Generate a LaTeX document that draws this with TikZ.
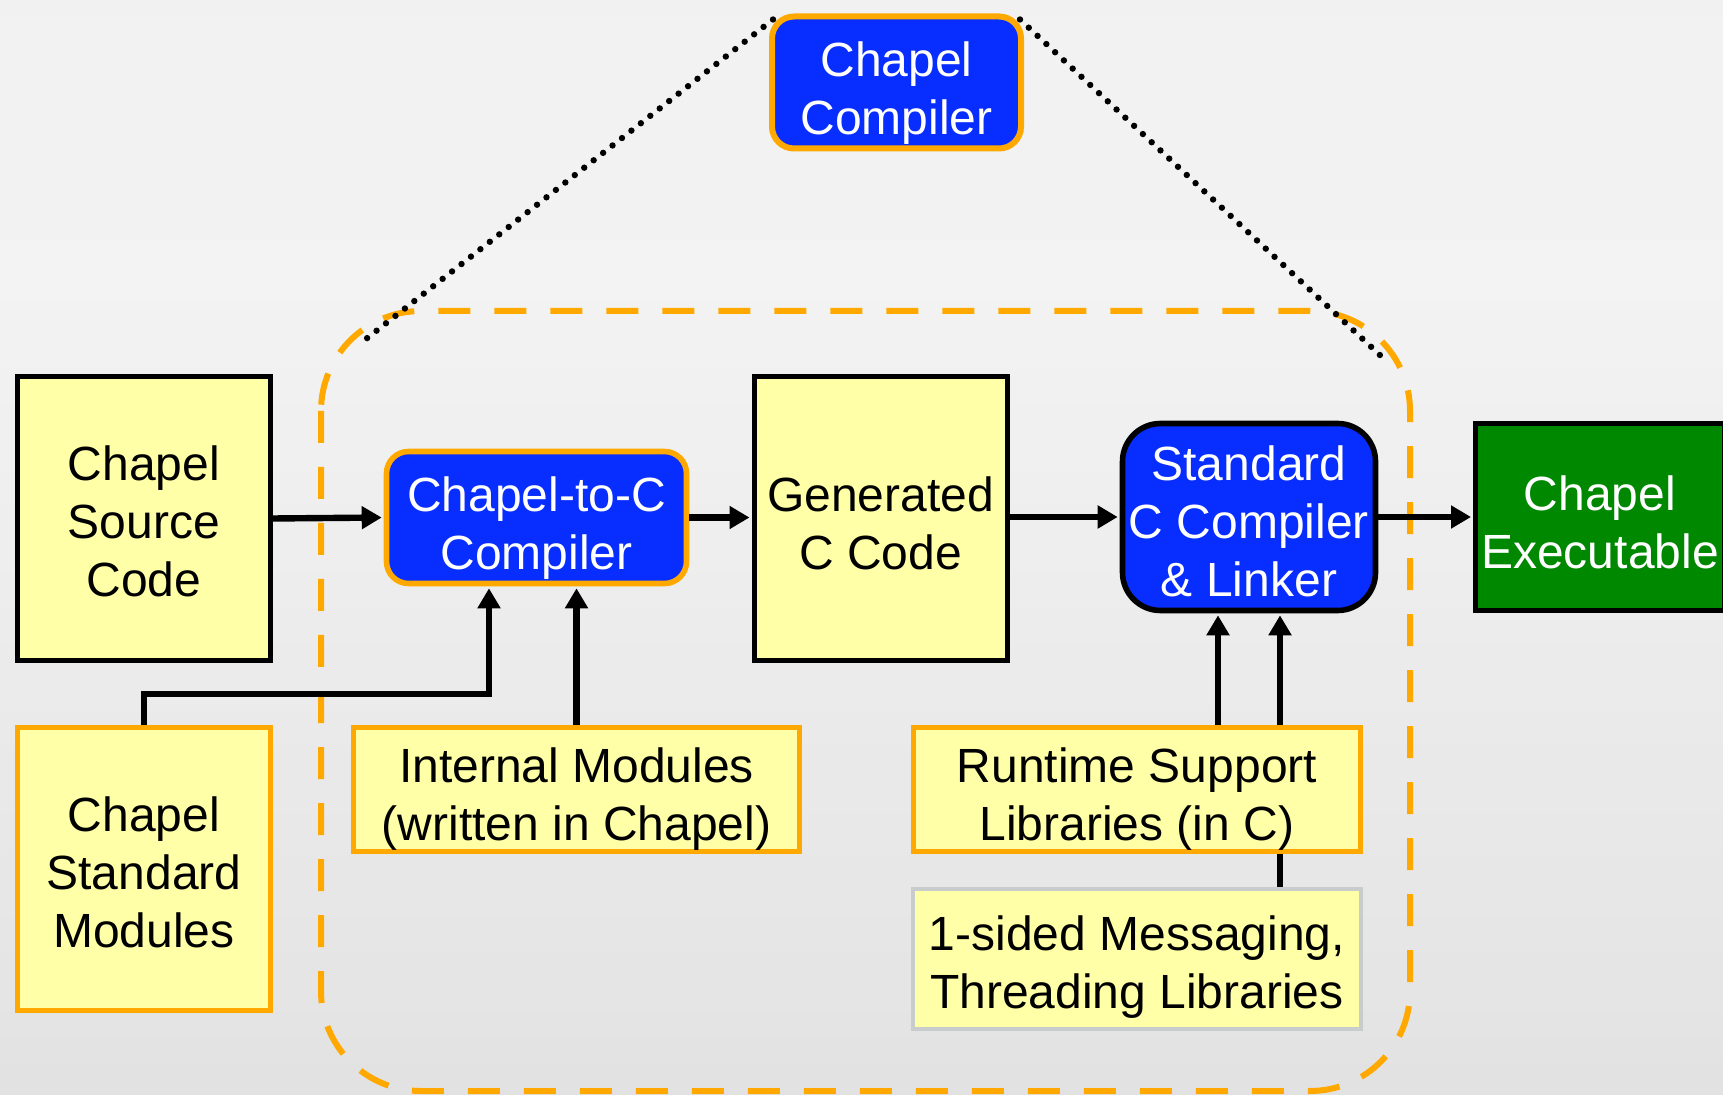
\documentclass[tikz,border=0pt]{standalone}
\usepackage{fontspec}
\setmainfont{Liberation Sans}
\usetikzlibrary{arrows.meta}
\definecolor{padyellow}{RGB}{255,255,168}
\definecolor{chblue}{RGB}{8,45,255}
\definecolor{chorange}{RGB}{255,168,0}
\definecolor{chgreen}{RGB}{0,136,0}
\definecolor{msgrim}{RGB}{200,204,204}
% backdrop: grey at the foot, almost white a third of the way down, light grey at the top
\pgfdeclareverticalshading{backdrop}{100bp}{color(0bp)=(black!20); color(30bp)=(black!10); color(62bp)=(black!2); color(75bp)=(black!3); color(100bp)=(black!9)}

\begin{document}
\begin{tikzpicture}[x=0.5pt,y=-0.5pt,
  every node/.style={inner sep=0pt},
  txt/.style={font=\fontsize{24}{29}\selectfont, align=center, text=black},
  wtxt/.style={txt, text=white},
  paper/.style={draw=black, line width=2.5pt, fill=padyellow},
  module/.style={draw=chorange, line width=2.5pt, fill=padyellow},
  lib/.style={draw=msgrim, line width=2pt, fill=padyellow},
  tool/.style={draw=chorange, line width=2.8pt, fill=chblue, rounded corners=11pt},
  linker/.style={draw=black, line width=2.8pt, fill=chblue, rounded corners=19pt},
  product/.style={draw=black, line width=2.5pt, fill=chgreen},
  flow/.style={line width=3.2pt, -{Triangle[length=10pt,width=11pt]}, shorten >=1pt},
  link/.style={line width=3.2pt},
  region/.style={draw=chorange, line width=3pt, dash pattern=on 16pt off 12pt, rounded corners=50pt},
  zoomline/.style={line width=3.2pt, dash pattern=on 0pt off 6pt, line cap=round}
]
% page and background
\useasboundingbox (0,0) rectangle (1723,1095);
\shade[shading=backdrop] (0,0) rectangle (1723,1095);
\shade[left color=black!10, middle color=white, right color=black!10, opacity=0.3] (0,0) rectangle (1723,1095);

% compiler region
\draw[region] (321,311) rectangle (1410,1091);

% overall compiler box, with the lines that open it up
\node[tool, line width=3pt, minimum width=124.5pt, minimum height=66pt] (cc) at (896.5,82.5) {};
\node[wtxt] (ccT) at ([yshift=-5.5pt]cc.center) {Chapel\\Compiler};
\coordinate (dl) at (366,339);
\coordinate (dr) at (1382,357);
\draw[zoomline] (cc.north west) ++(4,6) -- (dl);
\draw[zoomline] (cc.north east) ++(-4,6) -- (dr);

% pipeline
\node[paper, minimum width=126.5pt, minimum height=142pt] (src) at (144,518.5) {};
\node[txt] (srcT) at ([yshift=-1.5pt]src.center) {Chapel\\Source\\Code};
\node[tool, minimum width=150pt, minimum height=66pt] (c2c) at (536.5,517.5) {};
\node[wtxt] (c2cT) at ([yshift=-5.5pt]c2c.center) {Chapel-to-C\\Compiler};
\node[paper, minimum width=126.5pt, minimum height=142pt] (gen) at (880.5,518.5) {};
\node[txt] (genT) at ([yshift=-2.2pt]gen.center) {Generated\\C Code};
\node[linker, minimum width=126.5pt, minimum height=93.5pt] (std) at (1249,517) {};
\node[wtxt] (stdT) at ([yshift=-2.2pt]std.center) {Standard\\C Compiler\\\& Linker};
\node[product, minimum width=124.5pt, minimum height=93.5pt] (exe) at (1600,517) {};
\node[wtxt] (exeT) at ([yshift=-2.5pt]exe.center) {Chapel\\Executable};

% inputs
\node[module, minimum width=126.5pt, minimum height=141.5pt] (stdmod) at (144,869) {};
\node[txt] (stdmodT) at ([yshift=-1.7pt]stdmod.center) {Chapel\\Standard\\Modules};
\node[module, minimum width=223pt, minimum height=62pt] (intmod) at (576.5,789.5) {};
\node[txt] (intmodT) at ([yshift=-4.7pt]intmod.center) {Internal Modules\\(written in Chapel)};
\node[module, minimum width=223.5pt, minimum height=62pt] (rt) at (1137,789.5) {};
\node[txt] (rtT) at ([yshift=-4.7pt]rt.center) {Runtime Support\\Libraries (in C)};
\node[lib, minimum width=224pt, minimum height=70pt] (msg) at (1137,958.5) {};
\node[txt] (msgT) at ([yshift=-4.4pt]msg.center) {1-sided Messaging,\\Threading Libraries};

% main flow
\draw[flow] (src.east) -- (c2c.west);
\draw[flow] (c2c.east) -- (gen.west |- c2c.east);
\draw[flow] (gen.east |- std.west) -- (std.west);
\draw[flow] (std.east) -- (exe.west);

% module inputs
\coordinate (bend) at (489,694);
\draw[flow] (stdmod.north) |- (bend) -- (bend |- c2c.south);
\draw[flow] (intmod.north) -- (intmod.north |- c2c.south);

% runtime inputs
\coordinate (ra) at (1218,0);
\coordinate (rb) at (1280,0);
\draw[flow] (ra |- rt.north) -- (ra |- std.south);
\draw[flow] (rb |- rt.north) -- (rb |- std.south);
\draw[link] (rb |- msg.north) -- (rb |- rt.south);
\end{tikzpicture}
\end{document}
